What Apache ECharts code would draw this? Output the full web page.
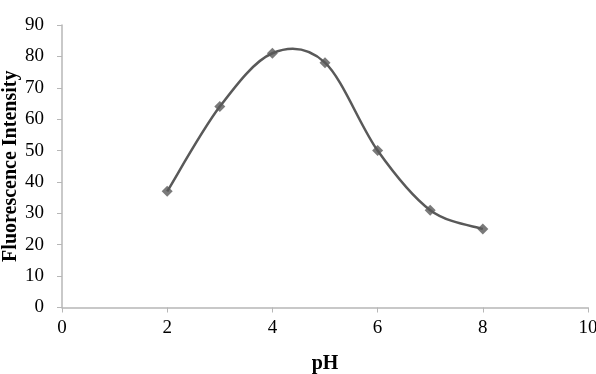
<!DOCTYPE html>
<html>
<head>
<meta charset="utf-8">
<script src="https://cdn.jsdelivr.net/npm/echarts@6/dist/echarts.min.js"></script>
<style>
  html, body { margin: 0; padding: 0; background: #fff; }
  #chart { width: 596px; height: 374px; }
</style>
</head>
<body>
<div id="chart"></div>
<script>
  // pH vs fluorescence intensity
  var phValues = [2, 3, 4, 5, 6, 7, 8];
  var intensity = [37, 64, 81, 78, 50, 31, 25];

  var chart = echarts.init(document.getElementById('chart'));
  var font = '"Liberation Serif", "Times New Roman", serif';
  var axisGray = '#b7b7b7';
  var lineGray = '#595959';

  var points = phValues.map(function (x, i) { return [x, intensity[i]]; });

  // smooth curve like a spreadsheet's "smoothed line" (Catmull-Rom -> bezier),
  // built from the data through the chart's own coordinate system
  function renderCurve(params, api) {
    if (params.dataIndex !== 0) return null;
    var p = points.map(function (d) { return api.coord(d); });
    var n = p.length;
    var path = 'M' + p[0][0] + ' ' + p[0][1];
    for (var i = 0; i < n - 1; i++) {
      var p0 = p[Math.max(i - 1, 0)], p1 = p[i], p2 = p[i + 1], p3 = p[Math.min(i + 2, n - 1)];
      var c1x = p1[0] + (p2[0] - p0[0]) / 6, c1y = p1[1] + (p2[1] - p0[1]) / 6;
      var c2x = p2[0] - (p3[0] - p1[0]) / 6, c2y = p2[1] - (p3[1] - p1[1]) / 6;
      path += ' C' + c1x + ' ' + c1y + ' ' + c2x + ' ' + c2y + ' ' + p2[0] + ' ' + p2[1];
    }
    return {
      type: 'path',
      shape: { pathData: path },
      style: { fill: null, stroke: lineGray, lineWidth: 2.5 }
    };
  }

  var option = {
    backgroundColor: '#ffffff',
    animation: false,
    grid: { left: 62, right: 8, top: 25, bottom: 66.5, outerBoundsMode: 'none' },
    xAxis: {
      type: 'value',
      min: 0, max: 10, interval: 2,
      name: 'pH',
      nameLocation: 'middle',
      nameGap: 46,
      nameMoveOverlap: false,
      nameTextStyle: { fontFamily: font, fontSize: 20, fontWeight: 'bold', color: '#000' },
      axisLine: { show: true, lineStyle: { color: axisGray, width: 1.5 } },
      axisTick: { show: true, length: 5, lineStyle: { color: axisGray } },
      axisLabel: { fontFamily: font, fontSize: 19, color: '#000', margin: 11 },
      splitLine: { show: false }
    },
    yAxis: {
      type: 'value',
      min: 0, max: 90, interval: 10,
      name: 'Fluorescence Intensity',
      nameLocation: 'middle',
      nameGap: 41,
      nameMoveOverlap: false,
      nameTextStyle: { fontFamily: font, fontSize: 20, fontWeight: 'bold', color: '#000' },
      axisLine: { show: true, lineStyle: { color: axisGray, width: 1.5 } },
      axisTick: { show: true, length: 5, lineStyle: { color: axisGray } },
      axisLabel: { fontFamily: font, fontSize: 19, color: '#000', margin: 18 },
      splitLine: { show: false }
    },
    series: [{
      type: 'custom',
      renderItem: renderCurve,
      data: points,
      silent: true,
      z: 2
    }, {
      type: 'scatter',
      data: points,
      symbol: 'diamond',
      symbolSize: 11,
      itemStyle: { color: lineGray },
      z: 3
    }]
  };

  chart.setOption(option);
</script>
</body>
</html>
